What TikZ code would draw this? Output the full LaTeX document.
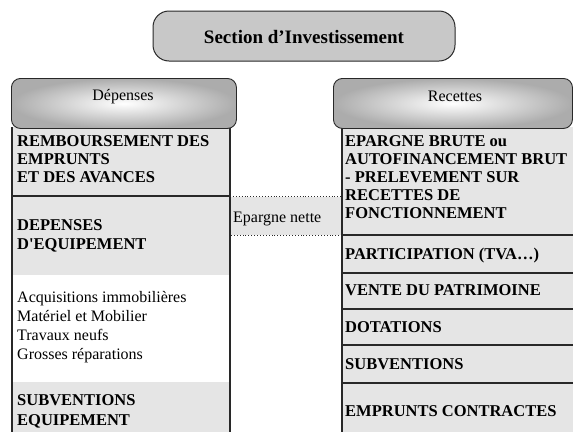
\documentclass[tikz,border=0pt]{standalone}
\usepackage{fontspec}
\setmainfont{Liberation Serif}
\definecolor{cellgray}{RGB}{229,229,229}
\definecolor{titlegray}{RGB}{200,200,200}
\definecolor{headgray}{RGB}{172,172,172}
\definecolor{edge}{RGB}{40,40,40}
\begin{document}
\begin{tikzpicture}[x=1pt,y=-1pt,
  cell/.style={draw=none, inner sep=0pt, outer sep=0pt, anchor=north west},
  rule/.style={draw=edge, line width=1.1pt},
  header/.style={draw=edge, line width=0.9pt, rounded corners=9pt, inner sep=0pt,
    anchor=north west, shading=radial, inner color=white, outer color=headgray,
    minimum height=50pt},
  % multi-line texts are placed by the baseline of their last line
  boldtext/.style={font=\fontsize{16.5}{18}\selectfont\bfseries, align=left,
    inner sep=0pt, anchor=base west},
  plaintext/.style={font=\fontsize{16}{18.7}\selectfont, align=left,
    inner sep=0pt, anchor=base west},
  headtext/.style={font=\fontsize{16}{18}\selectfont, inner sep=0pt, anchor=base},
  link/.style={draw=edge, dotted, line width=0.9pt}]
\useasboundingbox (0,0) rectangle (573,432);

% title
\node[draw=edge, line width=1pt, fill=titlegray, rounded corners=16pt,
  minimum width=302pt, minimum height=50pt, inner sep=0pt] (title) at (304,36) {};
\node[font=\fontsize{19}{22}\selectfont\bfseries, inner sep=0pt, anchor=base]
  (titletext) at (304,43) {Section d'Investissement};

% expenditure column
\node[cell, fill=cellgray, minimum width=218pt, minimum height=69pt] (remb) at (12,127) {};
\node[cell, fill=cellgray, minimum width=218pt, minimum height=79pt] (equip) at (12,196) {};
\node[cell, fill=white, minimum width=218pt, minimum height=107pt] (acq) at (12,275) {};
\node[cell, fill=cellgray, minimum width=218pt, minimum height=50pt] (subeq) at (12,382) {};

% revenue column
\node[cell, fill=cellgray, minimum width=231pt, minimum height=108pt] (epargne) at (342,127) {};
\node[cell, fill=cellgray, minimum width=231pt, minimum height=38pt] (particip) at (342,235) {};
\node[cell, fill=cellgray, minimum width=231pt, minimum height=36pt] (vente) at (342,273) {};
\node[cell, fill=cellgray, minimum width=231pt, minimum height=36pt] (dotat) at (342,309) {};
\node[cell, fill=cellgray, minimum width=231pt, minimum height=38pt] (subv) at (342,345) {};
\node[cell, fill=cellgray, minimum width=231pt, minimum height=49pt] (empr) at (342,383) {};

% net savings band between the columns
\node[cell, fill=cellgray, minimum width=112pt, minimum height=38pt] (nette) at (230,197) {};
\draw[link] (remb.south east) -- (remb.south east -| epargne.west);
\draw[link] (epargne.south west) -- (epargne.south west -| remb.east);
\node[font=\fontsize{16}{18}\selectfont, inner sep=0pt, anchor=base west]
  (nettetext) at (233,222) {Epargne nette};

% column borders
\draw[rule] (remb.north west) -- (subeq.south west);
\draw[rule] (remb.north east) -- (subeq.south east);
\draw[rule] (remb.south west) -- (remb.south east);
\draw[rule] (epargne.north west) -- (empr.south west);
\foreach \n in {particip,vente,dotat,subv,empr}
  \draw[rule] (\n.north west) -- (\n.north east);

% headers
\node[header, minimum width=225pt] (dep) at (11,78) {};
\node[headtext] (deptext) at (123,100) {Dépenses};
\node[header, minimum width=239pt] (rec) at (333,78) {};
\node[headtext] (rectext) at (455,101) {Recettes};

% expenditure texts
\node[boldtext] (tremb) at (17,182) {REMBOURSEMENT DES\\EMPRUNTS\\ET DES AVANCES};
\node[boldtext, font=\fontsize{16.5}{19.5}\selectfont\bfseries] (tequip) at (17,249.5) {DEPENSES\\D\textquotesingle EQUIPEMENT};
\node[plaintext] (tacq) at (17,359) {Acquisitions immobilières\\Matériel et Mobilier\\Travaux neufs\\Grosses réparations};
\node[boldtext, font=\fontsize{16.5}{20}\selectfont\bfseries] (tsubeq) at (17,425) {SUBVENTIONS\\EQUIPEMENT};

% revenue texts
\node[boldtext] (tepargne) at (345,218) {EPARGNE BRUTE ou\\AUTOFINANCEMENT BRUT\\- PRELEVEMENT SUR\\RECETTES DE\\FONCTIONNEMENT};
\node[boldtext] (tparticip) at (345,259) {PARTICIPATION (TVA\dots)};
\node[boldtext] (tvente) at (345,295) {VENTE DU PATRIMOINE};
\node[boldtext] (tdotat) at (345,332) {DOTATIONS};
\node[boldtext] (tsubv) at (345,369) {SUBVENTIONS};
\node[boldtext] (tempr) at (345,416) {EMPRUNTS CONTRACTES};
\end{tikzpicture}
\end{document}
